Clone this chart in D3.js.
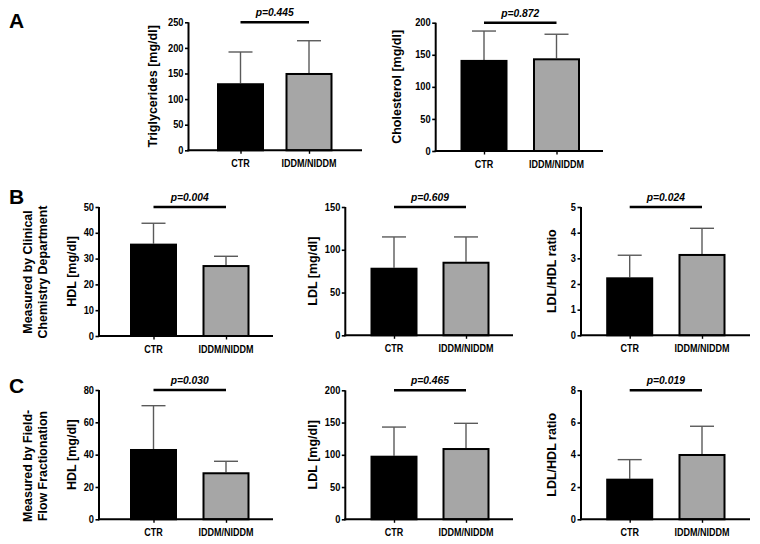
<!DOCTYPE html>
<html><head><meta charset="utf-8">
<script src="https://cdn.jsdelivr.net/npm/d3@7"></script>
<style>
body{margin:0;background:#fff;}
text{font-family:"Liberation Sans",Arial,sans-serif;font-weight:bold;fill:#000;}
</style></head>
<body><svg id="c" width="760" height="544"></svg>
<script>
const categories = ["CTR", "IDDM/NIDDM"];
const triglycerides = [131, 151], triglyceridesSD = [192, 214];
const cholesterol = [142, 144.5], cholesterolSD = [187, 182];
const hdlClinical = [35.8, 27.5], hdlClinicalSD = [43.7, 30.9];
const ldlClinical = [79, 86], ldlClinicalSD = [115, 115];
const ratioClinical = [2.26, 3.17], ratioClinicalSD = [3.12, 4.17];
const hdlFFF = [43.5, 29.1], hdlFFFSD = [70.3, 35.9];
const ldlFFF = [98.6, 110.5], ldlFFFSD = [143, 148.8];
const ratioFFF = [2.52, 4.05], ratioFFFSD = [3.7, 5.77];
const pValues = ["p=0.445", "p=0.872", "p=0.004", "p=0.609", "p=0.024", "p=0.030", "p=0.465", "p=0.019"];
const yTitles = ["Triglycerides [mg/dl]", "Cholesterol [mg/dl]", "HDL [mg/dl]", "LDL [mg/dl]", "LDL/HDL ratio", "HDL [mg/dl]", "LDL [mg/dl]", "LDL/HDL ratio"];
const yMax = [250, 200, 50, 150, 5, 80, 200, 8];
const yTickStep = [50, 50, 10, 50, 1, 20, 50, 2];
const panelLetters = ["A", "B", "C"];
const rowLabels = [["Measured by Clinical", "Chemistry Department"], ["Measured by Field-", "Flow Fractionation"]];

const svg = d3.select("#c");
const charts = [
  {v: triglycerides, e: triglyceridesSD, ax: 188.5, xEnd: 362, c: [240.5, 309], y0: 150.3, yT: 22.3, tx: 153},
  {v: cholesterol, e: cholesterolSD, ax: 435.7, xEnd: 603, c: [484, 556.5], y0: 151, yT: 22.7, tx: 397},
  {v: hdlClinical, e: hdlClinicalSD, ax: 99, xEnd: 273, c: [153.5, 226], y0: 336, yT: 207, tx: 72},
  {v: ldlClinical, e: ldlClinicalSD, ax: 345.3, xEnd: 513, c: [394, 466], y0: 335.3, yT: 207, tx: 313},
  {v: ratioClinical, e: ratioClinicalSD, ax: 581, xEnd: 750, c: [629.7, 702], y0: 335.3, yT: 207, tx: 552},
  {v: hdlFFF, e: hdlFFFSD, ax: 99, xEnd: 273, c: [153.5, 226], y0: 519.3, yT: 390, tx: 72},
  {v: ldlFFF, e: ldlFFFSD, ax: 345.3, xEnd: 513, c: [394, 466], y0: 519.3, yT: 390.3, tx: 313},
  {v: ratioFFF, e: ratioFFFSD, ax: 581, xEnd: 750, c: [629.7, 702], y0: 519.3, yT: 390.3, tx: 552}
];
const fills = ["#000000", "#a6a6a6"];
const bw = 47;

function htext(g, x, y, txt, size, anchor, sx, sy, italic) {
  const t = g.append("text").attr("transform", `translate(${x},${y}) scale(${sx},${sy})`)
    .attr("text-anchor", anchor).style("font-size", size + "px").text(txt);
  if (italic) t.style("font-style", "italic");
  return t;
}

charts.forEach((ch, i) => {
  const g = svg.append("g");
  const y = d3.scaleLinear().domain([0, yMax[i]]).range([ch.y0, ch.yT]);
  const x = d3.scalePoint().domain(categories).range(ch.c);
  const ticks = d3.range(0, yMax[i] + yTickStep[i] / 2, yTickStep[i]);
  // error bars (behind bars)
  categories.forEach((cat, k) => {
    const cx = x(cat);
    g.append("line").attr("x1", cx).attr("x2", cx).attr("y1", y(ch.v[k])).attr("y2", y(ch.e[k]))
      .attr("stroke", "#5a5a5a").attr("stroke-width", 1.4);
    g.append("line").attr("x1", cx - 12).attr("x2", cx + 12).attr("y1", y(ch.e[k])).attr("y2", y(ch.e[k]))
      .attr("stroke", "#5a5a5a").attr("stroke-width", 1.4);
  });
  // bars
  g.selectAll("rect.bar").data(categories).join("rect")
    .attr("x", (d) => x(d) - bw / 2 + 1).attr("width", bw - 2)
    .attr("y", (d, k) => y(ch.v[k]) + 1).attr("height", (d, k) => y(0) - y(ch.v[k]) - 1)
    .attr("fill", (d, k) => fills[k]).attr("stroke", "#000").attr("stroke-width", 2);
  // y axis
  const yAxis = d3.axisLeft(y).tickValues(ticks).tickSize(3.5).tickPadding(1.5).tickFormat(() => "");
  const ya = g.append("g").attr("transform", `translate(${ch.ax},0)`).call(yAxis);
  ya.select(".domain").attr("stroke-width", 2).attr("d", `M0,${ch.y0 + 1}V${ch.yT}`);
  ya.selectAll(".tick line").attr("stroke-width", 1.6);
  ticks.forEach((t) => {
    htext(g, ch.ax - 5, y(t) + 3.6, d3.format("d")(t), 9.3, "end", 1, 1.12);
  });
  // x axis
  const xAxis = d3.axisBottom(x).tickSize(3.5).tickFormat(() => "");
  const xa = g.append("g").attr("transform", `translate(0,${ch.y0})`).call(xAxis);
  xa.select(".domain").attr("stroke-width", 2).attr("d", `M${ch.ax - 1},0H${ch.xEnd}`);
  xa.selectAll(".tick line").attr("stroke-width", 1.4);
  // category labels
  categories.forEach((cat) => {
    htext(g, x(cat), ch.y0 + 16.5, cat, 9.3, "middle", 0.97, 1.2);
  });
  // significance line and p
  g.append("line").attr("x1", ch.c[0]).attr("x2", ch.c[1]).attr("y1", ch.yT).attr("y2", ch.yT)
    .attr("stroke", "#000").attr("stroke-width", 2.4);
  htext(g, (ch.c[0] + ch.c[1]) / 2, ch.yT - 6, pValues[i], 10.3, "middle", 1, 1.15, true);
  // y title
  g.append("text").attr("transform", `translate(${ch.tx},${(ch.y0 + ch.yT) / 2}) rotate(-90)`)
    .attr("text-anchor", "middle").attr("dy", "0.35em").style("font-size", "12.5px").text(yTitles[i]);
});

// panel letters
const letterY = [28, 204, 393];
panelLetters.forEach((l, i) => {
  svg.append("text").attr("x", 9).attr("y", letterY[i]).style("font-size", "21px").text(l);
});
// row labels
const rowCenters = [272, 466];
rowLabels.forEach((lines, i) => {
  lines.forEach((t, j) => {
    svg.append("text").attr("transform", `translate(${28 + j * 14.5},${rowCenters[i]}) rotate(-90)`)
      .attr("text-anchor", "middle").attr("dy", "0.35em").style("font-size", "12.4px").text(t);
  });
});
</script></body></html>
